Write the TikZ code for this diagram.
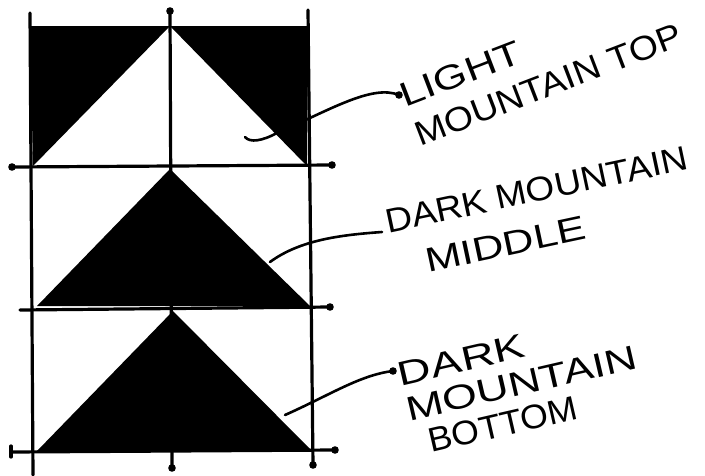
\documentclass[tikz,border=0pt]{standalone}
\usepackage{fontspec}
\setmainfont{Liberation Sans}
\tikzset{
  ln/.style={line width=3.2pt, line cap=round},
  leader/.style={line width=2.6pt, line cap=round},
  lbl/.style={inner sep=0pt, outer sep=0pt, anchor=north west, align=left},
}
\newcommand{\tipdot}[1]{\fill #1 circle (3.8pt);}
\begin{document}
\begin{tikzpicture}[x=1pt,y=-1pt]
\useasboundingbox (0,0) rectangle (705,475);
% ---- blocks ----
\fill (30,26) -- (170,26) -- (33,166) -- cycle;
\fill (170,26) -- (308,26) -- (307,166) -- cycle;
\fill (170,169) -- (310,306) -- (37,306) -- cycle;
\fill (173,311) -- (312,451) -- (37,451) -- cycle;
% ---- grid lines ----
\draw[ln] (30,13) -- (33,475);
\draw[ln] (170,10) -- (172,468);
\draw[ln] (308,10) -- (313,465);
\draw[ln] (12,167) -- (332,165);
\draw[ln] (20,310) -- (330,307);
\draw[ln] (12,452) -- (335,450);
\draw[ln] (11,446) -- (11,457);
\tipdot{(12,167)} \tipdot{(332,165)} \tipdot{(330,307)}
\tipdot{(335,450)} \tipdot{(172,468)} \tipdot{(313,465)}
\tipdot{(170,11)}
% ---- labels ----
\node[lbl, rotate=21, font=\fontsize{34}{42}\selectfont] (l1) at (396.6,85.1)
  {\scalebox{1.27}[1]{LIGHT}\\\scalebox{1.10}[1]{MOUNTAIN TOP}};
\node[lbl, rotate=12, font=\fontsize{34}{47}\selectfont] (l2) at (383.1,210.1)
  {\scalebox{1.09}[1]{DARK MOUNTAIN}\\\hspace*{31pt}\scalebox{1.27}[1]{MIDDLE}};
\node[lbl, rotate=13, font=\fontsize{34}{36}\selectfont] (l3) at (395.7,363.2)
  {\scalebox{1.37}[1]{DARK}\\\scalebox{1.32}[1]{MOUNTAIN}\\\hspace*{15pt}\scalebox{1.05}[1]{BOTTOM}};
% ---- leaders ----
\coordinate (s1) at (245,137);
\coordinate (e1) at (399,95);
\draw[leader] (s1) .. controls (250,143) and (262,141) .. (277,133)
  .. controls (330,110) and (372,84) .. (e1);
\tipdot{(e1)}
\coordinate (s2) at (270,262);
\coordinate (e2) at (382,232);
\draw[leader] (s2) .. controls (300,240) and (340,235) .. (e2);
\coordinate (s3) at (285,415);
\coordinate (e3) at (393,371);
\draw[leader] (s3) .. controls (330,395) and (360,375) .. (e3);
\tipdot{(e3)}
\end{tikzpicture}
\end{document}
